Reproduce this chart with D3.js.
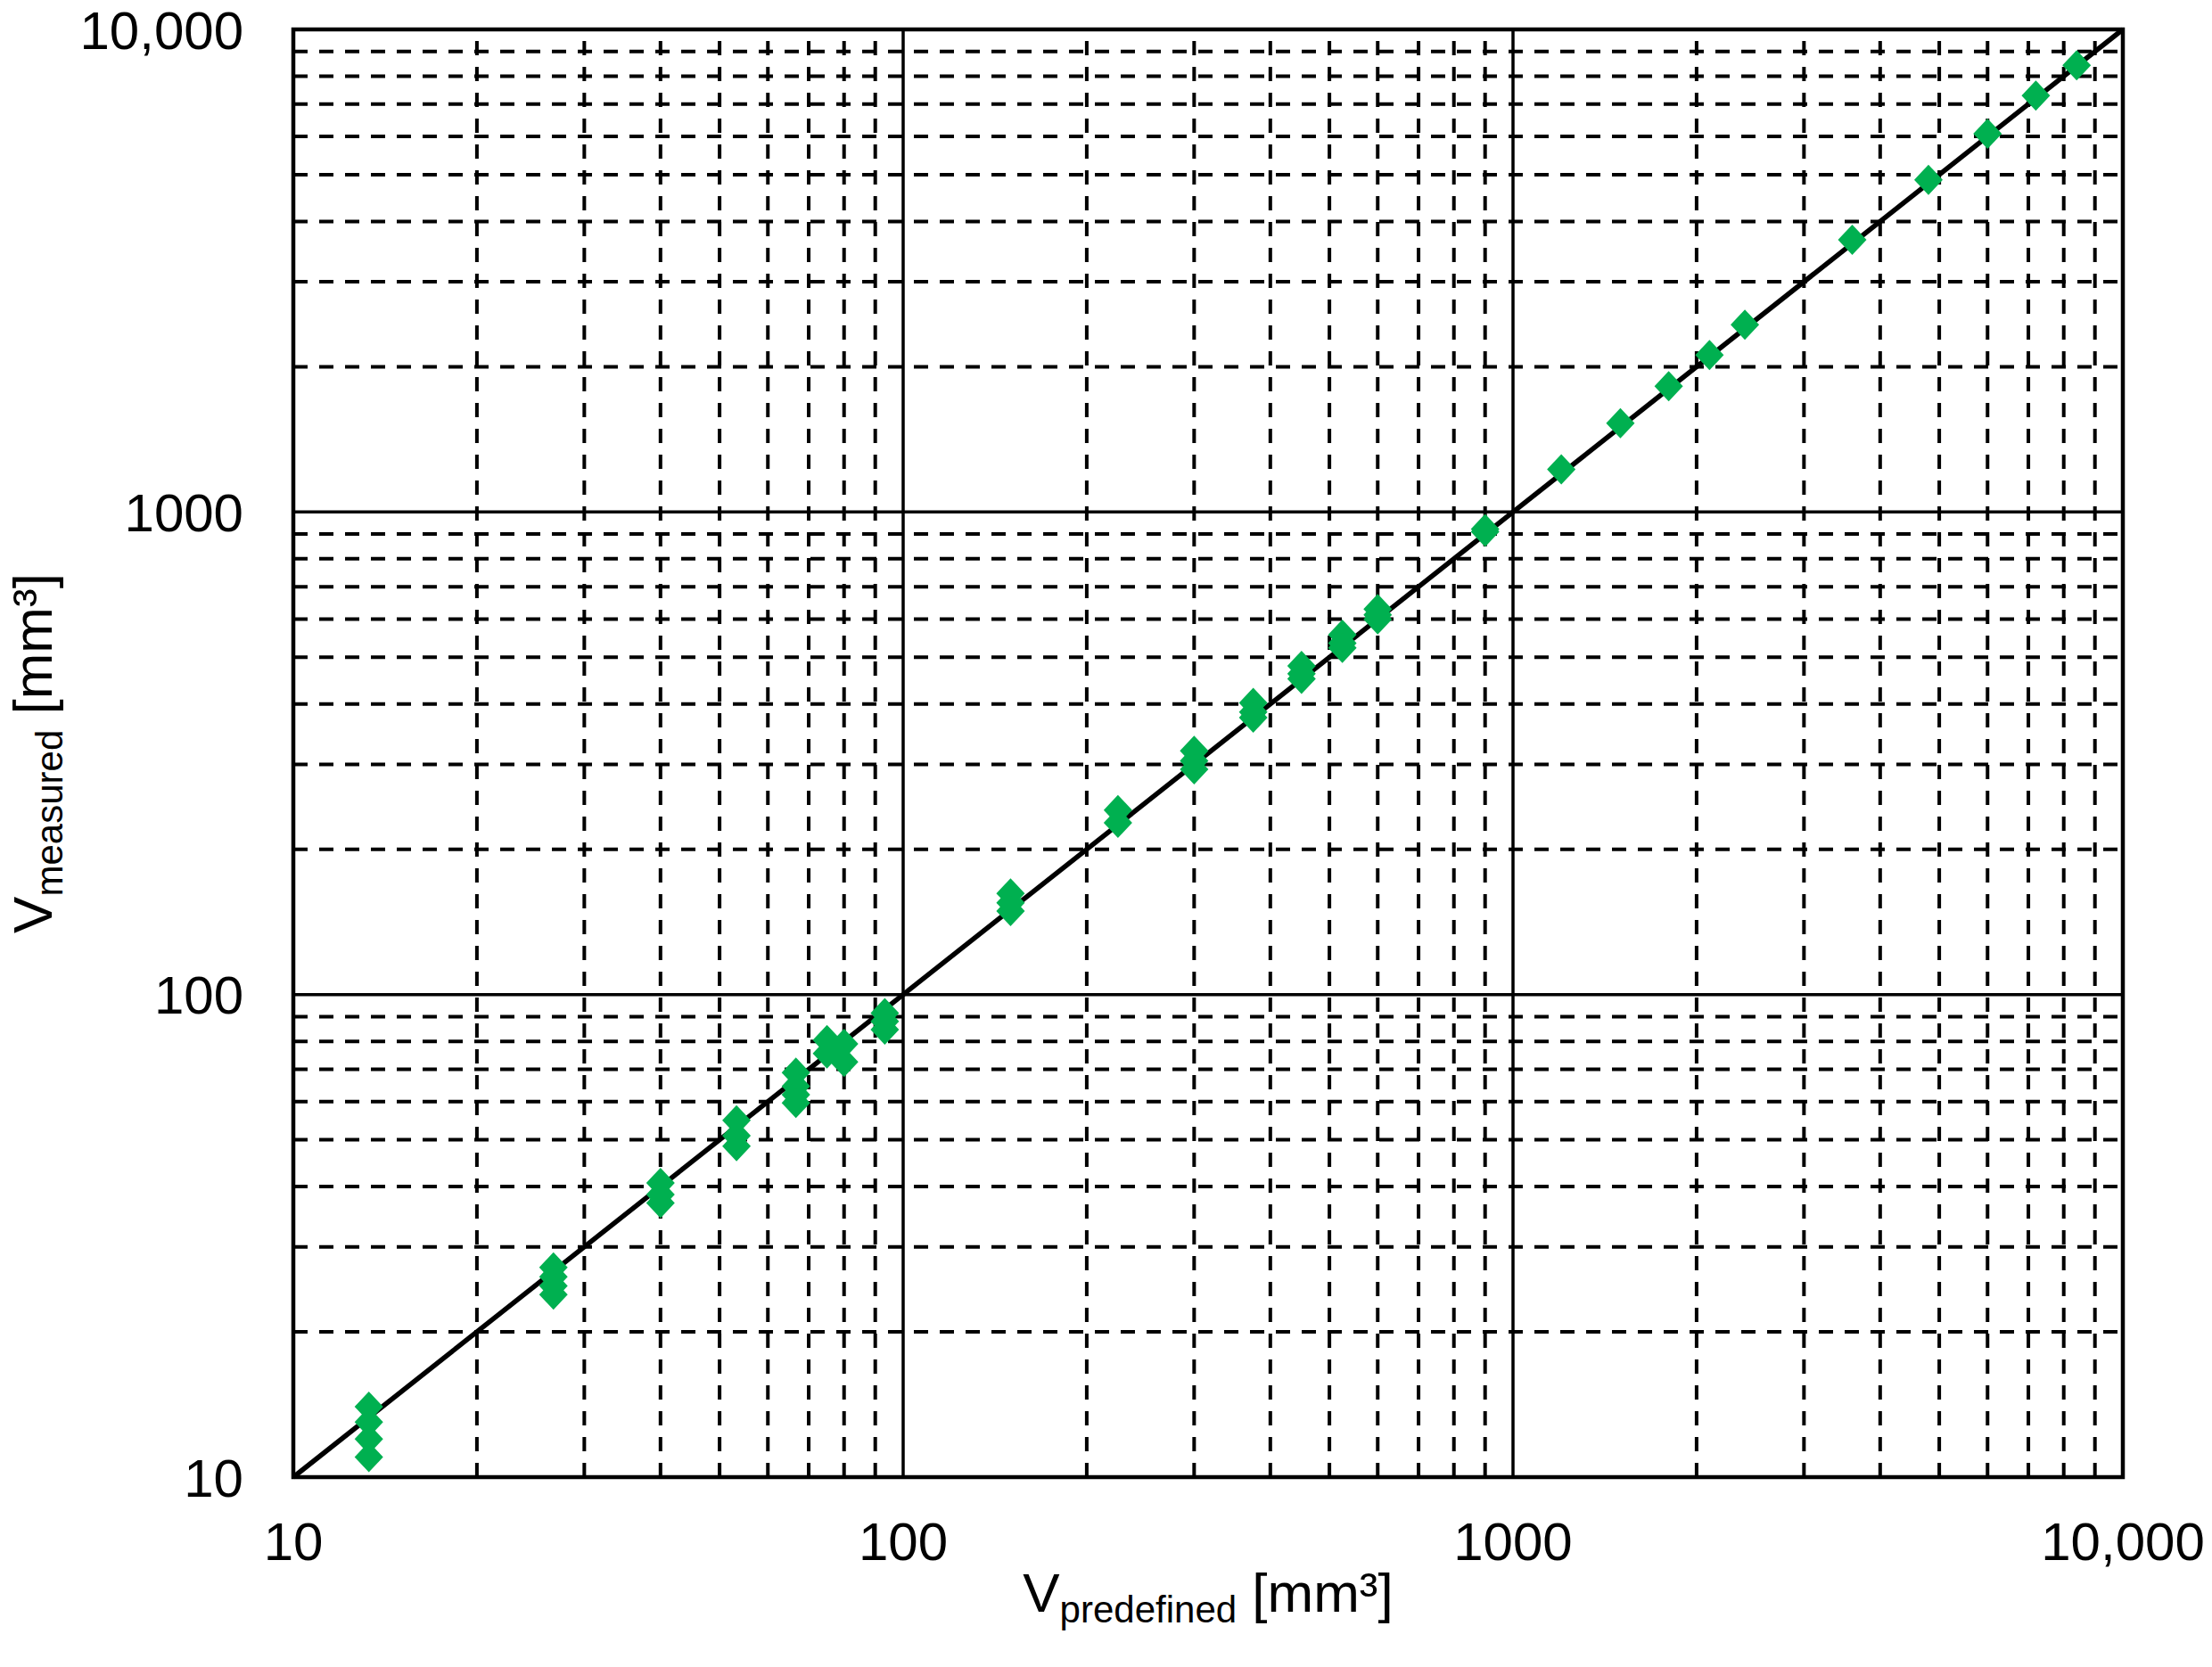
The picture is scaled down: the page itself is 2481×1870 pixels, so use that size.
<!DOCTYPE html>
<html>
<head>
<meta charset="utf-8">
<script src="https://cdn.jsdelivr.net/npm/d3@7"></script>
<style>
  html, body { margin: 0; padding: 0; background: #fff; }
  svg { display: block; }
  text { font-family: "Liberation Sans", Arial, sans-serif; fill: #000; }
</style>
</head>
<body>
<script>
// ---- data ----
const predefined = [13.3, 26.7, 40, 53.3, 66.7, 75, 80, 93.3, 150, 225, 300, 375, 450, 525, 600, 900, 1200, 1500, 1800, 2100, 2400, 3600, 4800, 6000, 7200, 8400];
const measured = [
  [14, 13, 12, 11],
  [27.2, 26, 24.9, 23.9],
  [40.7, 38.5, 37],
  [54.9, 51, 48.5],
  [68.9, 64.6, 62, 59.6],
  [80.5, 75.5],
  [79, 72.5],
  [91.5, 88, 84.6],
  [162, 155, 149],
  [241, 227],
  [320, 305, 293],
  [402, 385, 375],
  [480, 462, 451],
  [557, 535, 523],
  [629, 612, 599],
  [922, 910],
  [1225],
  [1527],
  [1822],
  [2115],
  [2444],
  [3665],
  [4880],
  [6080],
  [7295],
  [8430]
];
const tickValues = [10, 100, 1000, 10000];
const tickLabels = ["10", "100", "1000", "10,000"];
const majorGrid = [100, 1000];
const minorGrid = [20, 30, 40, 50, 60, 70, 80, 90, 200, 300, 400, 500, 600, 700, 800, 900, 2000, 3000, 4000, 5000, 6000, 7000, 8000, 9000];
const identityLine = [10, 10000];

// ---- layout ----
const W = 2481, H = 1870;
const L = 329, R = 2381, T = 33, B = 1657;
const green = "#00B050";

const svg = d3.select("body").append("svg").attr("width", W).attr("height", H);

const x = d3.scaleLog().domain([10, 10000]).range([L, R]);
const y = d3.scaleLog().domain([10, 10000]).range([B, T]);

// minor dashed grid
const g = svg.append("g");
g.selectAll("line.vmin").data(minorGrid).enter().append("line")
  .attr("x1", d => x(d)).attr("x2", d => x(d))
  .attr("y1", B).attr("y2", T)
  .attr("stroke", "#000").attr("stroke-width", 4)
  .attr("stroke-dasharray", "16,13");
g.selectAll("line.hmin").data(minorGrid).enter().append("line")
  .attr("y1", d => y(d)).attr("y2", d => y(d))
  .attr("x1", L).attr("x2", R)
  .attr("stroke", "#000").attr("stroke-width", 4)
  .attr("stroke-dasharray", "16,13");

// major solid grid
g.selectAll("line.vmaj").data(majorGrid).enter().append("line")
  .attr("x1", d => x(d)).attr("x2", d => x(d))
  .attr("y1", B).attr("y2", T)
  .attr("stroke", "#000").attr("stroke-width", 3.5);
g.selectAll("line.hmaj").data(majorGrid).enter().append("line")
  .attr("y1", d => y(d)).attr("y2", d => y(d))
  .attr("x1", L).attr("x2", R)
  .attr("stroke", "#000").attr("stroke-width", 3.5);

// frame
svg.append("rect").attr("x", L).attr("y", T).attr("width", R - L).attr("height", B - T)
  .attr("fill", "none").attr("stroke", "#000").attr("stroke-width", 4.5);

// identity line
svg.append("path")
  .datum(identityLine)
  .attr("d", d3.line().x(d => x(d)).y(d => y(d)))
  .attr("stroke", "#000").attr("stroke-width", 5.5).attr("fill", "none");

// points
const pts = [];
predefined.forEach((p, i) => measured[i].forEach(m => pts.push([p, m])));
const hw = 16, hh = 17;
svg.append("g").selectAll("path").data(pts).enter().append("path")
  .attr("d", d => {
    const cx = x(d[0]), cy = y(d[1]);
    return `M${cx},${cy - hh}L${cx + hw},${cy}L${cx},${cy + hh}L${cx - hw},${cy}Z`;
  })
  .attr("fill", green);

// tick labels
const fs = 60;
svg.append("g").selectAll("text").data(tickValues).enter().append("text")
  .attr("x", L - 56).attr("y", d => y(d)).attr("dy", "0.36em")
  .attr("text-anchor", "end").attr("font-size", fs)
  .text((d, i) => tickLabels[i]);
svg.append("g").selectAll("text").data(tickValues).enter().append("text")
  .attr("x", d => x(d)).attr("y", 1750)
  .attr("text-anchor", "middle").attr("font-size", fs)
  .text((d, i) => tickLabels[i]);

// axis titles
const xt = svg.append("text").attr("x", (L + R) / 2).attr("y", 1808)
  .attr("text-anchor", "middle").attr("font-size", 62);
xt.append("tspan").text("V");
xt.append("tspan").attr("font-size", 42).attr("dy", 12).text("predefined");
xt.append("tspan").attr("dy", -12).text(" [mm³]");

const yt = svg.append("text")
  .attr("transform", `translate(58,${(T + B) / 2}) rotate(-90)`)
  .attr("text-anchor", "middle").attr("font-size", 62);
yt.append("tspan").text("V");
yt.append("tspan").attr("font-size", 42).attr("dy", 12).text("measured");
yt.append("tspan").attr("dy", -12).text(" [mm³]");
</script>
</body>
</html>
